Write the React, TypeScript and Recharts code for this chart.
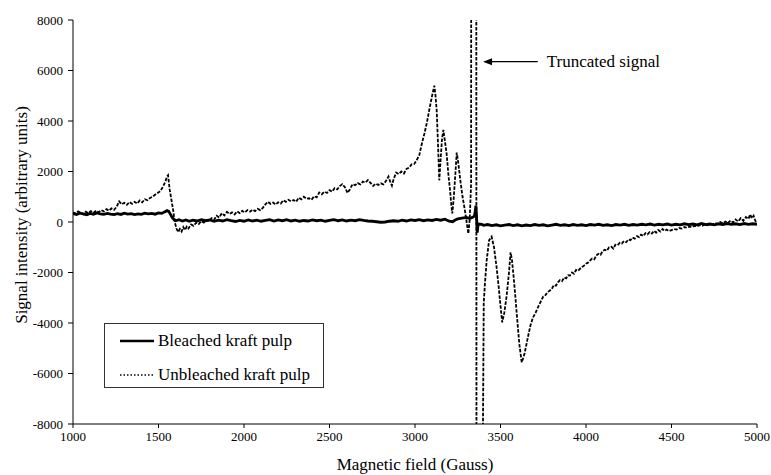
import React from 'react';
import { LineChart, Line, XAxis, YAxis, ReferenceLine, Label } from 'recharts';

const FONT = "'Liberation Serif', 'Times New Roman', Tinos, 'Nimbus Roman', 'DejaVu Serif', serif";

const fieldTicks = [1000, 1500, 2000, 2500, 3000, 3500, 4000, 4500, 5000];
const intensityTicks = [-8000, -6000, -4000, -2000, 0, 2000, 4000, 6000, 8000];

const seriesNames = ['Bleached kraft pulp', 'Unbleached kraft pulp'];
const xAxisTitle = 'Magnetic field (Gauss)';
const yAxisTitle = 'Signal intensity (arbitrary units)';
const annotationText = 'Truncated signal';
const annotationTail = { x: 3718, y: 6350 };
const annotationTip = { x: 3398, y: 6350 };

// [field (G), signal]
const bleachedPoints: [number, number][] = [
  [1000, 330], [1020, 300], [1040, 350], [1060, 320], [1080, 290], [1100, 340], [1120, 310], [1140, 360],
  [1160, 320], [1180, 300], [1200, 340], [1220, 310], [1240, 290], [1260, 330], [1280, 300], [1300, 350],
  [1320, 310], [1340, 330], [1360, 290], [1380, 320], [1400, 300], [1420, 350], [1440, 320], [1460, 340],
  [1480, 310], [1500, 360], [1520, 340], [1535, 400], [1550, 450], [1560, 420], [1570, 300], [1580, 180],
  [1590, 100], [1600, 50], [1620, 90], [1640, 40], [1660, 80], [1680, 30], [1700, 70], [1725, 40],
  [1750, 90], [1775, 50], [1800, 80], [1825, 30], [1850, 70], [1875, 40], [1900, 90], [1925, 50],
  [1950, 20], [1975, 60], [2000, 30], [2025, 80], [2050, 40], [2075, 70], [2100, 30], [2125, 60],
  [2150, 90], [2175, 40], [2200, 80], [2225, 50], [2250, 90], [2275, 40], [2300, 70], [2325, 30],
  [2350, 60], [2375, 40], [2400, 80], [2425, 50], [2450, 70], [2475, 30], [2500, 60], [2525, 90],
  [2550, 50], [2575, 80], [2600, 40], [2625, 70], [2650, 50], [2675, 90], [2700, 60], [2725, 40],
  [2750, 30], [2775, 10], [2800, -10], [2825, 0], [2850, 30], [2875, 50], [2900, 30], [2925, 70],
  [2950, 40], [2975, 80], [3000, 60], [3025, 90], [3050, 50], [3075, 80], [3100, 60], [3125, 100],
  [3150, 70], [3175, 110], [3200, 30], [3220, 10], [3235, 80], [3250, 120], [3275, 150], [3300, 180],
  [3320, 140], [3340, 200], [3348, 250], [3352, 420], [3356, 650], [3360, 200], [3364, -420], [3368, -150],
  [3375, -80], [3390, -90], [3400, -130], [3425, -100], [3450, -140], [3475, -110], [3500, -150], [3525, -120],
  [3550, -100], [3575, -140], [3600, -110], [3625, -150], [3650, -120], [3675, -140], [3700, -100], [3725, -130],
  [3750, -110], [3775, -150], [3800, -120], [3825, -90], [3850, -130], [3875, -110], [3900, -140], [3925, -100],
  [3950, -130], [3975, -110], [4000, -140], [4025, -100], [4050, -120], [4075, -90], [4100, -130], [4125, -110],
  [4150, -140], [4175, -100], [4200, -120], [4225, -90], [4250, -130], [4275, -100], [4300, -120], [4325, -90],
  [4350, -110], [4375, -80], [4400, -120], [4425, -90], [4450, -110], [4475, -80], [4500, -120], [4525, -90],
  [4550, -110], [4575, -70], [4600, -100], [4625, -80], [4650, -110], [4675, -60], [4700, -100], [4725, -80],
  [4750, -110], [4775, -70], [4800, -100], [4825, -60], [4850, -90], [4875, -70], [4900, -100], [4925, -60],
  [4950, -90], [4975, -70], [5000, -90],
];

const unbleachedPoints: [number, number][] = [
  [1000, 380], [1015, 330], [1030, 420], [1045, 360], [1060, 300], [1075, 410], [1090, 350], [1105, 430],
  [1120, 370], [1135, 450], [1150, 390], [1165, 470], [1180, 420], [1195, 510], [1210, 450], [1225, 540],
  [1240, 480], [1255, 600], [1270, 820], [1285, 700], [1300, 760], [1315, 680], [1330, 790], [1345, 720],
  [1360, 800], [1375, 730], [1390, 850], [1405, 780], [1420, 900], [1435, 860], [1450, 950], [1465, 1000],
  [1480, 1080], [1495, 1150], [1510, 1220], [1525, 1380], [1540, 1600], [1550, 1800], [1556, 1850], [1565, 1300],
  [1575, 900], [1585, 500], [1595, 0], [1605, -250], [1615, -400], [1625, -280], [1635, -380], [1645, -200],
  [1655, -320], [1665, -180], [1675, -260], [1690, -100], [1705, -150], [1720, -30], [1735, -80], [1750, 40],
  [1765, -20], [1780, 80], [1795, 30], [1810, 150], [1825, 90], [1840, 250], [1855, 180], [1870, 350],
  [1885, 260], [1900, 400], [1915, 320], [1930, 380], [1945, 300], [1960, 420], [1975, 350], [1990, 440],
  [2005, 380], [2020, 470], [2035, 410], [2050, 490], [2065, 430], [2080, 520], [2095, 470], [2110, 560],
  [2125, 700], [2140, 800], [2155, 720], [2170, 770], [2185, 690], [2200, 780], [2215, 730], [2230, 860],
  [2245, 800], [2260, 880], [2275, 820], [2290, 870], [2305, 800], [2320, 960], [2335, 900], [2350, 1000],
  [2365, 920], [2380, 940], [2395, 880], [2410, 1020], [2425, 980], [2440, 1170], [2455, 1100], [2470, 1200],
  [2485, 1150], [2500, 1260], [2515, 1200], [2530, 1340], [2545, 1290], [2560, 1420], [2575, 1500], [2590, 1380],
  [2605, 1150], [2620, 1300], [2635, 1500], [2650, 1460], [2665, 1540], [2680, 1490], [2695, 1600], [2710, 1560],
  [2725, 1660], [2740, 1550], [2755, 1430], [2770, 1520], [2785, 1470], [2800, 1530], [2815, 1490], [2830, 1620],
  [2845, 1800], [2855, 1600], [2865, 1440], [2875, 1700], [2890, 1960], [2905, 1900], [2920, 2000], [2935, 1920],
  [2950, 2100], [2965, 2150], [2980, 2280], [2995, 2300], [3010, 2450], [3025, 2650], [3040, 3100], [3055, 3500],
  [3070, 3950], [3085, 4500], [3100, 5000], [3113, 5400], [3120, 5000], [3127, 4400], [3135, 3000], [3142, 1650],
  [3150, 2500], [3158, 3300], [3166, 3650], [3175, 3200], [3185, 2700], [3195, 1900], [3205, 1250], [3212, 700],
  [3218, 340], [3226, 900], [3236, 1900], [3244, 2750], [3254, 2300], [3265, 1650], [3278, 1000], [3292, 450],
  [3302, 0], [3312, -460], [3320, 100], [3328, 1500], [3333, 60000], [3356, 60000], [3362, -60000], [3388, -60000],
  [3394, -12000], [3402, -3200], [3409, -2440], [3419, -1530], [3433, -730], [3448, -580], [3462, -1000], [3477, -1790],
  [3490, -2600], [3497, -3115], [3510, -3975], [3522, -3600], [3535, -2980], [3549, -2050], [3559, -1200], [3567, -1500],
  [3575, -2050], [3585, -2800], [3595, -3640], [3610, -4830], [3624, -5560], [3632, -5400], [3640, -5230], [3650, -4900],
  [3660, -4570], [3675, -4100], [3690, -3780], [3705, -3600], [3719, -3380], [3728, -3250], [3738, -3115], [3750, -2950],
  [3762, -2900], [3775, -2780], [3787, -2720], [3800, -2650], [3812, -2500], [3824, -2520], [3836, -2390], [3848, -2300],
  [3860, -2340], [3872, -2200], [3884, -2230], [3896, -2110], [3906, -2120], [3918, -2000], [3930, -2050], [3942, -1900],
  [3954, -1930], [3965, -1850], [3978, -1780], [3990, -1720], [4002, -1640], [4014, -1600], [4023, -1530], [4036, -1450],
  [4048, -1480], [4060, -1330], [4072, -1260], [4085, -1300], [4097, -1150], [4110, -1100], [4122, -1140], [4135, -1000],
  [4148, -980], [4160, -1050], [4172, -900], [4185, -920], [4198, -820], [4210, -850], [4222, -760], [4235, -800],
  [4248, -690], [4260, -720], [4272, -620], [4285, -660], [4298, -560], [4310, -600], [4322, -500], [4335, -560],
  [4348, -440], [4360, -490], [4372, -400], [4385, -460], [4398, -350], [4410, -420], [4422, -320], [4435, -380],
  [4448, -280], [4460, -350], [4472, -300], [4485, -360], [4500, -320], [4515, -280], [4530, -300], [4545, -240],
  [4560, -260], [4575, -200], [4590, -230], [4605, -180], [4620, -200], [4635, -150], [4650, -170], [4665, -120],
  [4680, -150], [4695, -90], [4710, -130], [4725, -60], [4740, -100], [4755, -40], [4770, -80], [4785, 0],
  [4800, -60], [4815, 20], [4830, -40], [4845, 60], [4860, -20], [4875, 100], [4890, 20], [4905, 150],
  [4920, 50], [4935, 200], [4950, 120], [4960, 300], [4970, 150], [4980, 250], [4990, 50], [5000, -60],
];

const toRows = (pts: [number, number][]) => pts.map(([x, y]) => ({ x, y }));
const bleachedData = toRows(bleachedPoints);
const unbleachedData = toRows(unbleachedPoints);

const ArrowShape = (p: any) => {
  const { x1, y1, x2, y2 } = p;
  const tipX = Math.min(x1, x2);
  const tailX = Math.max(x1, x2);
  const y = (y1 + y2) / 2;
  return (
    <g>
      <line x1={tailX} y1={y} x2={tipX + 8} y2={y} stroke="#000" strokeWidth={1.2} />
      <polygon points={`${tipX},${y} ${tipX + 9},${y - 3.5} ${tipX + 9},${y + 3.5}`} fill="#000" />
      <text x={tailX + 9} y={y} dominantBaseline="central" style={{ fontFamily: FONT, fontSize: 17 }} fill="#000">
        {annotationText}
      </text>
    </g>
  );
};

const YTitle = () => (
  <text
    x={21}
    y={215}
    transform="rotate(-90, 21, 215)"
    textAnchor="middle"
    dominantBaseline="central"
    style={{ fontFamily: FONT, fontSize: 17 }}
    fill="#000"
  >
    {yAxisTitle}
  </text>
);

export default function App() {
  const tickStyle = { fill: '#000', fontSize: 13, style: { fontFamily: FONT } };
  return (
    <div style={{ position: 'absolute', left: 0, top: 0, width: 771, height: 475, background: '#fff', fontFamily: FONT }}>
      <LineChart
        width={771}
        height={475}
        margin={{ top: 20, right: 14, bottom: 0, left: 0 }}
        style={{ fontFamily: FONT }}
      >
        <XAxis
          type="number"
          dataKey="x"
          domain={[1000, 5000]}
          ticks={fieldTicks}
          allowDataOverflow
          height={51}
          tick={tickStyle}
          tickSize={4}
          tickMargin={4}
          axisLine={{ stroke: '#000', strokeWidth: 1 }}
          tickLine={{ stroke: '#000' }}
        >
          <Label
            value={xAxisTitle}
            position="insideBottom"
            offset={5}
            style={{ fontFamily: FONT, fontSize: 17, fill: '#000' }}
          />
        </XAxis>
        <YAxis
          type="number"
          dataKey="y"
          domain={[-8000, 8000]}
          ticks={intensityTicks}
          allowDataOverflow
          width={73}
          tick={tickStyle}
          tickSize={5}
          tickMargin={5}
          axisLine={{ stroke: '#000', strokeWidth: 1 }}
          tickLine={{ stroke: '#000' }}
        >
          <Label content={<YTitle />} />
        </YAxis>
        <Line
          data={unbleachedData}
          dataKey="y"
          name={seriesNames[1]}
          type="linear"
          stroke="#000"
          strokeWidth={1.8}
          strokeDasharray="3.5 1.5"
          dot={false}
          isAnimationActive={false}
        />
        <Line
          data={bleachedData}
          dataKey="y"
          name={seriesNames[0]}
          type="linear"
          stroke="#000"
          strokeWidth={2.8}
          dot={false}
          isAnimationActive={false}
        />
        <ReferenceLine
          segment={[annotationTail, annotationTip]}
          shape={ArrowShape}
          ifOverflow="visible"
        />
      </LineChart>
      <div
        style={{
          position: 'absolute',
          left: 104,
          top: 323,
          width: 220,
          height: 65,
          border: '1px solid #333',
          boxSizing: 'border-box',
          background: '#fff',
          fontFamily: FONT,
          fontSize: 17,
          color: '#000',
        }}
      >
        <svg style={{ position: 'absolute', left: 15, top: 0 }} width={36} height={63}>
          <line x1={0} y1={17} x2={34} y2={17} stroke="#000" strokeWidth={2.6} />
          <line x1={0} y1={51} x2={34} y2={51} stroke="#000" strokeWidth={1.3} strokeDasharray="1.5 2" />
        </svg>
        <div style={{ position: 'absolute', left: 53, top: 7, lineHeight: '20px', whiteSpace: 'nowrap' }}>
          {seriesNames[0]}
        </div>
        <div style={{ position: 'absolute', left: 53, top: 41, lineHeight: '20px', whiteSpace: 'nowrap' }}>
          {seriesNames[1]}
        </div>
      </div>
    </div>
  );
}
